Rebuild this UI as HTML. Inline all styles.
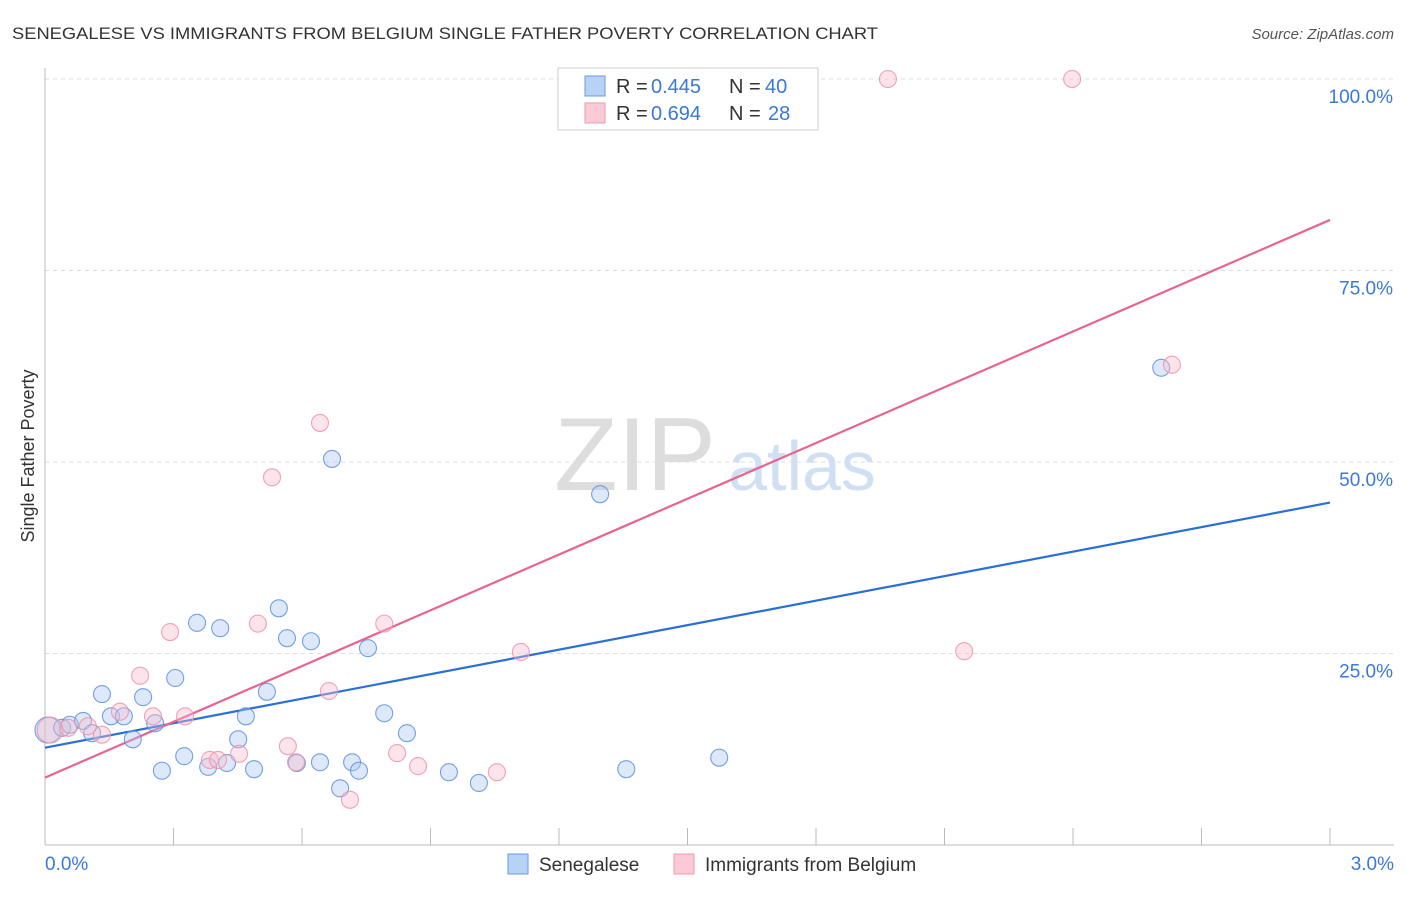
<!DOCTYPE html>
<html><head><meta charset="utf-8"><style>
body{margin:0;background:#fff;font-family:"Liberation Sans",sans-serif;}
svg text{font-family:"Liberation Sans",sans-serif;}
</style></head><body>
<svg id="c" width="1406" height="892">
<text x="12" y="39" font-size="17" fill="#333" textLength="866" lengthAdjust="spacingAndGlyphs">SENEGALESE VS IMMIGRANTS FROM BELGIUM SINGLE FATHER POVERTY CORRELATION CHART</text>
<text x="1394" y="39" font-size="15" fill="#555" font-style="italic" text-anchor="end">Source: ZipAtlas.com</text>
<text x="635" y="490" font-size="104" fill="#ddd" font-family="Liberation Serif" text-anchor="middle">ZIP</text>
<text x="802" y="490" font-size="70" fill="#cfe0f5" text-anchor="middle">atlas</text>
<g id="grid"></g><g id="axes"></g><g id="trend"></g><g id="pts"></g>
<text x="34" y="456" font-size="18" fill="#333" text-anchor="middle" transform="rotate(-90 34 456)">Single Father Poverty</text>
<text x="45" y="870" font-size="19" fill="#3b78d8">0.0%</text>
<text x="1394" y="870" font-size="19" fill="#3b78d8" text-anchor="end">3.0%</text>
<g>
<rect x="558" y="68" width="260" height="62" fill="#fff" stroke="#ccc"/>
<rect x="585" y="76" width="20" height="20" fill="#b8d2f5" stroke="#6a9ae0"/>
<rect x="585" y="103" width="20" height="20" fill="#fbcad7" stroke="#ef9ab2"/>
<text y="93" font-size="20" fill="#333"><tspan x="616">R =</tspan><tspan x="651" fill="#3b78d8">0.445</tspan><tspan x="729">N =</tspan><tspan x="765" fill="#3b78d8">40</tspan></text>
<text y="120" font-size="20" fill="#333"><tspan x="616">R =</tspan><tspan x="651" fill="#3b78d8">0.694</tspan><tspan x="729">N =</tspan><tspan x="768" fill="#3b78d8">28</tspan></text>
</g>
<g>
<rect x="508" y="854" width="20" height="20" fill="#b8d2f5" stroke="#6a9ae0"/>
<text x="539" y="871" font-size="19" fill="#333">Senegalese</text>
<rect x="674" y="854" width="20" height="20" fill="#fbcad7" stroke="#ef9ab2"/>
<text x="705" y="871" font-size="19" fill="#333">Immigrants from Belgium</text>
</g>
</svg>
<script>
const blueX=[0.007,0.040,0.058,0.089,0.110,0.133,0.154,0.184,0.205,0.229,0.257,0.273,0.304,0.325,0.355,0.381,0.409,0.425,0.451,0.469,0.488,0.518,0.546,0.565,0.588,0.621,0.642,0.670,0.689,0.717,0.733,0.754,0.792,0.845,0.943,1.013,1.296,1.357,1.574,2.606];
const blueY=[15.0,15.3,15.7,16.2,14.6,19.7,16.8,16.8,13.8,19.3,15.9,9.7,21.8,11.6,29.0,10.2,28.3,10.7,13.8,16.8,9.9,20.0,30.9,27.0,10.7,26.6,10.8,50.4,7.4,10.8,9.7,25.7,17.2,14.6,9.5,8.1,45.8,9.9,11.4,62.3];
const pinkX=[0.012,0.054,0.100,0.133,0.175,0.222,0.252,0.292,0.327,0.385,0.404,0.453,0.497,0.530,0.567,0.586,0.642,0.663,0.712,0.792,0.822,0.871,1.055,1.111,1.968,2.146,2.398,2.631];
const pinkY=[15.0,15.3,15.5,14.4,17.4,22.1,16.8,27.8,16.8,11.1,11.1,11.9,28.9,48.0,12.9,10.8,55.1,20.1,5.9,28.9,12.0,10.3,9.5,25.2,100,25.3,100,62.7];
const blueTrend=[12.7,44.7];
const pinkTrend=[8.8,81.6];
const yTicks=[25,50,75,100];
const yTickLabels=["25.0%","50.0%","75.0%","100.0%"];
const xTicks=[0,0.3,0.6,0.9,1.2,1.5,1.8,2.1,2.4,2.7,3.0];
const NS="http://www.w3.org/2000/svg";
const X=v=>45+v*428.33, Y=v=>845-v*7.66;
function mk(p,t,a){const e=document.createElementNS(NS,t);for(const k in a)e.setAttribute(k,a[k]);document.getElementById(p).appendChild(e);return e;}
yTicks.forEach((t,i)=>{
 const l=mk('grid','line',{x1:45,x2:1394,y1:Y(t),y2:Y(t),stroke:'#ddd','stroke-dasharray':'4 4'});
 
 
 const tx=mk('grid','text',{x:1393,y:Y(t)+24,'font-size':19,fill:'#3b78d8','text-anchor':'end'});
 tx.textContent=yTickLabels[i];
 
 
});
const ax=mk('axes','line',{x1:45,x2:1394,y1:845,y2:845,stroke:'#bbb'});


const ay=mk('axes','line',{x1:45,x2:45,y1:68,y2:845,stroke:'#bbb'});


xTicks.forEach(t=>{const l=mk('axes','line',{x1:X(t),x2:X(t),y1:828,y2:845,stroke:'#bbb'});
 
 });
function pts(xs,ys,fill,stroke,name){xs.forEach((x,i)=>{
 const c=mk('pts','circle',{cx:X(x),cy:Y(ys[i]),r:i==0?13:8.5,fill:fill,'fill-opacity':0.4,stroke:stroke,'stroke-width':1.1,'stroke-opacity':0.85});
 
 });}
pts(blueX,blueY,'#a9c8f2','#5d90dc','senegalese-point');
pts(pinkX,pinkY,'#f8bccb','#eb93ad','belgium-point');
const bt=mk('trend','line',{x1:X(0),y1:Y(blueTrend[0]),x2:X(3),y2:Y(blueTrend[1]),stroke:'#2a6fd6','stroke-width':2.2});


const pt=mk('trend','line',{x1:X(0),y1:Y(pinkTrend[0]),x2:X(3),y2:Y(pinkTrend[1]),stroke:'#e8648f','stroke-width':2.2});


</script>
</body></html>
